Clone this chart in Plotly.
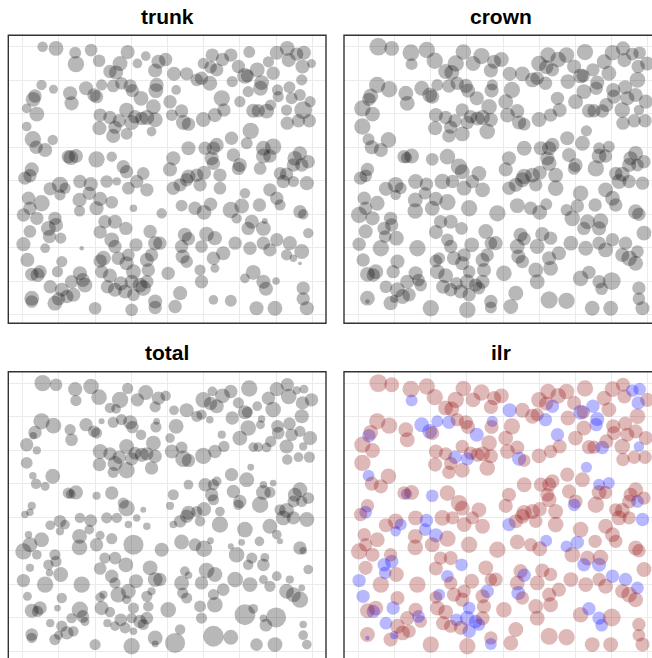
import plotly.graph_objects as go

# Tree positions in the plot (m)
x_m = [
    5.5, 9.2, 14.5, 14.7, 18.9, 21.1, 29.0, 26.9, 31.7, 34.0, 37.5, 39.5, 49.9, 52.4, 55.2, 57.5, 62.6, 59.6, 67.9, 70.2,
    73.1, 73.5, 75.7, 77.7, 79.8, 77.3,
    24.1, 25.8, 36.6, 41.8, 45.3, 48.1, 49.4, 51.7, 53.6, 51.9, 57.9, 61.4, 62.1, 64.8, 66.0, 65.7, 69.2, 77.1, 73.7, 70.4,
    62.3, 60.0, 55.0, 5.2, 8.5, 2.9, 3.4, 1.1, 3.9, 13.1, 13.5, 17.5, 19.7, 20.4, 21.8, 25.0, 27.3, 29.7, 30.3, 32.7, 37.0,
    36.8, 42.4,
    40.7, 41.2, 43.9, 44.4, 45.8, 49.9, 53.1, 55.6, 36.1, 34.3, 36.6, 35.6, 32.9, 31.0, 30.1, 28.7, 26.7, 25.5, 24.1, 21.4,
    21.2, 25.0, 28.7, 63.7, 65.1, 67.4, 68.5, 70.6, 72.9, 74.3, 76.6, 77.5, 79.4, 73.1, 76.2, 79.2, 1.1, 2.8, 3.7, 6.2, 8.3,
    63.0, 57.7, 61.9, 66.5, 69.2, 66.5, 68.3, 58.2, 60.0, 59.6, 65.6, 53.6, 52.7, 52.2, 52.7, 50.4, 45.8, 54.5, 50.1, 48.1,
    45.8, 41.6, 40.7, 76.6, 75.2, 77.1, 78.9, 74.8, 72.9, 71.1, 27.8, 28.7, 33.3, 24.6, 20.4, 13.3, 14.7, 12.6, 2.5, 2.0, 0.6,
    10.3, 11.7, 10.3, 7.6, 15.8, 18.8, 18.4, 21.4, 15.7, 15.7, 20.4, 24.6, 23.2, 26.0, 29.2, 31.5, 34.3, 30.6, 38.4, 41.6,
    43.5, 45.3, 49.0, 54.5, 43.9, 47.6, 50.1, 51.9, 57.5, 60.5, 61.4, 59.1, 63.3, 62.3, 66.5, 66.9, 65.4, 68.3, 70.2, 71.1,
    72.0, 74.8, 78.5, 76.6, 77.5, 78.9, 70.2, 73.8, 77.1, 74.8, 72.9, 76.6, 68.3, 66.5, 62.8, 58.7, 55.4, 52.7, 53.1, 49.4,
    50.8, 53.1, 44.8, 45.8, 43.9, 44.2, 45.3, 49.0, 49.4, 40.2, 37.9, 36.6, 35.2, 35.6, 34.3, 34.7, 31.3, 29.2, 28.7, 30.6,
    30.1, 32.4, 33.3, 34.3, 30.6, 30.1, 36.6, 36.6, 42.1, 43.5, 52.7, 57.5, 61.4, 63.7, 66.5, 67.2, 70.0, 64.6, 69.7, 77.5,
    77.5, 78.5, 28.5, 25.5, 22.7, 21.4, 24.6, 25.5, 26.4, 22.3, 21.4, 21.8, 24.1, 23.4, 27.1, 25.5, 28.3, 20.0, 17.2, 16.6,
    15.8, 13.5, 12.2, 14.0, 8.9, 9.9, 10.8, 9.6, 10.8, 7.6, 4.8, 4.1, 2.5, 1.3, 0.2, 2.0, 6.2, 7.4, 7.1, 9.2,
    10.5, 8.9, 3.9, 0.2, 2.0, 1.6, 5.2, 2.5, 2.5, 16.3,
]
y_m = [
    80.0, 79.5, 78.2, 74.8, 79.0, 75.8, 78.4, 75.0, 75.0, 77.2, 75.5, 76.2, 75.0, 77.5, 76.2, 77.5, 78.4, 74.1, 75.5, 78.2,
    79.5, 76.0, 77.8, 78.2, 75.0, 74.1,
    72.6, 72.3, 72.9, 71.9, 71.9, 70.1, 70.6, 69.1, 73.1, 73.9, 69.6, 71.3, 71.3, 73.1, 69.3, 67.6, 72.1, 70.1, 67.9, 67.1,
    66.6, 63.6, 64.6, 68.6, 67.3, 64.3, 65.3, 61.6, 59.9, 66.1, 63.1, 67.6, 65.6, 65.1, 68.6, 68.3, 69.1, 68.3, 66.9, 64.6,
    68.6, 66.9, 67.1,
    63.6, 59.6, 60.8, 57.4, 56.9, 58.3, 59.6, 61.1, 62.1, 58.9, 58.2, 54.7, 58.6, 59.1, 57.4, 61.1, 57.9, 56.0, 58.9, 59.6,
    55.7, 53.4, 54.0, 60.9, 60.9, 60.8, 62.6, 65.1, 61.1, 64.6, 65.6, 61.1, 63.6, 57.2, 57.9, 57.9, 56.2, 52.4, 50.0, 49.2,
    52.2,
    54.9, 52.7, 51.2, 49.7, 50.2, 47.4, 47.4, 47.7, 44.7, 43.7, 43.7, 50.7, 49.7, 46.7, 45.2, 49.7, 49.7, 41.7, 42.4, 41.7,
    41.3, 46.7, 43.4, 48.2, 46.7, 44.7, 45.7, 44.7, 42.0, 42.2, 44.2, 42.7, 42.2, 47.2, 46.4, 46.9, 47.4, 47.2, 43.4, 41.5,
    40.8,
    38.8, 37.8, 35.8, 37.6, 39.8, 39.0, 36.3, 34.6, 34.3, 31.0, 31.8, 33.6, 39.8, 39.8, 37.8, 39.8, 37.3, 31.8, 30.3, 37.8,
    38.8, 40.3, 38.8, 37.8, 32.6, 31.8, 30.6, 33.0, 31.3, 32.5, 36.3, 28.8, 27.8, 25.8, 25.8, 28.0, 32.8, 37.3, 34.8, 32.8,
    39.8, 39.8, 39.3, 30.8, 30.0, 24.4, 22.4, 21.4, 18.9, 16.9, 17.9, 15.4, 19.4, 21.4, 19.9, 21.4, 18.4, 16.9, 13.9, 20.4,
    24.1, 22.9, 23.9, 22.7, 20.4, 17.4, 15.9, 13.4, 9.9, 12.4, 21.4, 21.4, 24.9, 17.9, 16.4, 13.4, 20.9, 17.9, 15.4, 12.9,
    9.9, 8.9, 8.0, 9.9, 6.0, 1.5, 4.0, 2.2, 2.5, 6.5, 4.5, 4.2, 10.9, 12.7, 9.9, 7.8, 10.1, 2.0, 2.0, 8.0,
    4.8, 2.0, 25.8, 27.8, 27.8, 24.7, 22.4, 20.4, 16.9, 16.9, 16.1, 12.9, 11.7, 8.4, 9.4, 7.5, 7.0, 2.0, 8.9, 10.4,
    12.4, 9.9, 5.5, 6.0, 3.5, 4.8, 7.5, 12.9, 15.9, 8.4, 12.9, 11.9, 12.1, 16.4, 21.1, 24.9, 19.9, 23.4, 25.8, 26.8,
    22.9, 28.8, 28.8, 29.8, 31.8, 34.8, 33.3, 5.0, 4.0, 19.9,
]

# Biomass per tree (relative units)
trunk = [
    28, 40, 32, 44, 34, 34, 38, 40, 26, 26, 38, 36, 30, 36, 36, 36, 32, 36, 30, 38, 40, 38, 36, 38, 24, 38,
    36, 38, 38, 38, 36, 34, 36, 40, 36, 34, 30, 42, 36, 40, 40, 40, 36, 30, 32, 30, 30, 30, 44, 28, 24, 40, 36, 26, 40, 38,
    38, 38, 36, 36, 30, 34, 34, 36, 36, 40, 38, 40, 26,
    36, 32, 36, 40, 36, 40, 38, 36, 40, 40, 40, 26, 36, 36, 40, 40, 36, 36, 36, 36, 38, 38, 32, 38, 36, 40, 30, 30, 30, 32,
    32, 48, 30, 36, 36, 36, 26, 44, 36, 38, 28,
    44, 36, 32, 40, 44, 40, 36, 36, 38, 36, 34, 38, 36, 38, 36, 36, 38, 36, 38, 36, 38, 38, 38, 38, 40, 36, 36, 36, 36, 34,
    36, 36, 34, 28, 44, 40, 38, 36, 38, 36, 36,
    44, 30, 30, 36, 36, 38, 36, 38, 38, 30, 38, 34, 34, 22, 34, 36, 36, 20, 28, 36, 36, 36, 36, 34, 32, 36, 40, 36, 44, 40,
    28, 28, 38, 36, 40, 16, 36, 36, 36, 30, 36, 30, 38, 36, 28, 28, 36, 38, 40, 20, 30, 10, 36, 36, 36, 36, 38, 36, 24, 34,
    40, 38, 38, 36, 36, 38, 34, 30, 36, 36, 36, 38, 36, 36, 38, 36, 36, 34, 38, 40, 38, 40, 42, 36, 34, 34, 38, 36, 36, 38,
    26, 32, 26, 40, 38, 38, 20, 38, 40, 36, 36, 38, 36, 38, 36, 36, 40, 36, 36, 40, 36, 36, 38, 36, 38, 38, 38, 34, 40, 38,
    38, 36, 36, 38, 40, 36, 38, 30, 30, 36, 36, 38, 36, 38, 38, 34, 26, 36, 40, 38, 30, 36, 36, 36, 36, 36, 44, 40, 34, 12,
]
crown = [
    48, 40, 45, 32, 44, 44, 42, 44, 40, 44, 38, 40, 42, 42, 42, 42, 44, 38, 40, 42, 38, 38, 34, 34, 38, 36,
    40, 40, 38, 38, 40, 40, 36, 36, 36, 38, 40, 40, 36, 36, 38, 36, 40, 42, 38, 38, 40, 40, 36, 44, 44, 36, 40, 44, 40, 40,
    40, 40, 40, 38, 32, 36, 36, 38, 38, 38, 30, 38, 44,
    40, 40, 38, 38, 34, 40, 36, 38, 42, 40, 38, 42, 38, 36, 36, 36, 36, 36, 36, 38, 38, 36, 40, 38, 36, 36, 38, 38, 42, 38,
    38, 28, 38, 36, 36, 36, 44, 32, 38, 38, 42,
    30, 38, 40, 32, 32, 40, 36, 38, 38, 34, 44, 38, 38, 38, 40, 38, 40, 40, 38, 40, 42, 38, 38, 40, 38, 34, 36, 38, 40, 36,
    44, 40, 40, 42, 34, 30, 40, 36, 36, 34, 36,
    42, 32, 28, 38, 40, 36, 34, 38, 40, 42, 40, 44, 42, 36, 40, 36, 40, 44, 44, 36, 38, 40, 36, 42, 40, 36, 40, 32, 32, 36,
    42, 42, 40, 36, 38, 42, 36, 40, 40, 36, 40, 36, 36, 40, 36, 40, 36, 36, 34, 42, 38, 40, 40, 36, 40, 40, 38, 38, 40, 40,
    38, 36, 38, 36, 40, 38, 36, 40, 40, 42, 38, 34, 40, 36, 38, 38, 40, 36, 38, 34, 40, 36, 34, 38, 36, 44, 36, 32, 40, 40,
    46, 44, 42, 36, 36, 34, 48, 40, 40, 36, 34, 38, 34, 38, 36, 38, 34, 36, 38, 32, 34, 40, 40, 38, 34, 36, 38, 44, 34, 34,
    38, 38, 40, 36, 38, 22, 40, 36, 38, 34, 40, 36, 40, 36, 36, 38, 44, 34, 36, 36, 40, 36, 38, 44, 36, 36, 40, 40, 12, 44,
]
total = [
    44, 34, 38, 30, 42, 42, 30, 44, 36, 40, 36, 28, 42, 26, 40, 36, 44, 30, 36, 38, 36, 42, 22, 24, 36, 36,
    28, 26, 30, 26, 38, 30, 28, 20, 38, 36, 36, 38, 30, 26, 20, 24, 42, 38, 34, 34, 42, 40, 22, 44, 42, 20, 36, 36, 22, 30,
    34, 36, 32, 30, 16, 30, 30, 38, 34, 28, 18, 30, 40,
    26, 38, 32, 44, 36, 44, 36, 30, 40, 36, 36, 36, 38, 34, 36, 40, 36, 40, 36, 40, 36, 30, 44, 26, 26, 26, 30, 34, 38, 34,
    30, 22, 38, 28, 26, 30, 32, 20, 28, 24, 40,
    18, 36, 40, 20, 18, 40, 30, 36, 36, 28, 44, 26, 30, 36, 30, 36, 26, 26, 38, 30, 38, 30, 22, 40, 38, 30, 32, 32, 40, 30,
    30, 44, 16, 36, 22, 26, 38, 30, 22, 20, 20,
    34, 26, 22, 26, 28, 34, 26, 24, 40, 42, 36, 30, 30, 28, 20, 20, 20, 54, 38, 20, 34, 36, 28, 44, 40, 34, 44, 18, 16, 18,
    42, 42, 30, 28, 34, 24, 26, 40, 26, 16, 40, 36, 40, 36, 20, 26, 26, 22, 18, 40, 40, 44, 30, 24, 40, 42, 34, 30, 42, 36,
    42, 40, 26, 20, 40, 30, 30, 32, 30, 42, 36, 40, 40, 22, 30, 28, 38, 40, 24, 30, 28, 36, 30, 34, 20, 44, 40, 18, 54, 28,
    56, 40, 56, 26, 20, 34, 54, 34, 40, 20, 26, 26, 40, 34, 30, 34, 36, 30, 42, 22, 26, 38, 28, 22, 34, 26, 30, 30, 24, 34,
    44, 28, 36, 28, 30, 24, 30, 18, 28, 22, 36, 30, 38, 24, 36, 22, 44, 20, 28, 30, 40, 30, 26, 44, 40, 20, 40, 34, 28, 44,
]
# Sign of the isometric log-ratio (crown vs trunk) per tree
ilr_sign = list(
    "+++-" "++++++++++++++++++" "--+-"
    "+++-+++--+" "+-+---++++" "++-++-++++" "+--+--+++-" "-++"
    "+++-++++++" "++++-+-+++" "+++++-++++" "+-+++++-++" "+"
    "-++--++++-" "++++++++++" "+++++-++++" "++++--+++-" "+"
    "+--++---++" "+++++++++-" "+++++++---" "+++--+++++" "++-+++---+"
    "++++++++++" "+++-+-++++" "+++-+++++-" "---+-++-++" "+++---++++"
    "++-+++-++-" "++++-++++-" "+++++-+-+-" "+-+--++---" "++++++++-+"
)

n = len(x_m)
assert all(len(a) == n for a in (y_m, trunk, crown, total, ilr_sign)), [len(a) for a in (x_m, y_m, trunk, crown, total, ilr_sign)]

W, H = 652, 658
X_RANGE = [-3.98, 83.8]
Y_RANGE = [-2.5, 83.4]


def size_scale(values, domain=(10, 56), px=(3.8, 20.8)):
    """Linear size scale: value -> marker diameter in px."""
    d0, d1 = domain
    p0, p1 = px
    return [p0 + (v - d0) * (p1 - p0) / (d1 - d0) for v in values]


grey = "rgba(0,0,0,0.4)"
ilr_colors = ["rgba(139,0,0,0.4)" if s == "+" else "rgba(0,0,255,0.4)" for s in ilr_sign]

panels = [
    ("trunk", trunk, [grey] * n, "x", "y"),
    ("crown", crown, [grey] * n, "x2", "y2"),
    ("total", total, [grey] * n, "x3", "y3"),
    ("ilr", crown, ilr_colors, "x4", "y4"),
]

fig = go.Figure()
for name, vals, cols, xa, ya in panels:
    fig.add_trace(go.Scatter(
        x=x_m, y=y_m, mode="markers", name=name,
        marker=dict(size=size_scale(vals), color=cols, line=dict(width=0)),
        xaxis=xa, yaxis=ya, hoverinfo="skip", showlegend=False,
    ))

# panel geometry (paper fractions)
left_x = [8.3 / W, 326 / W]
right_x = [344 / W, 1.0]
top_y = [1 - 323.3 / H, 1 - 35.3 / H]
bot_y = [0.0, 1 - 371.7 / H]
right_xrange = [X_RANGE[0], X_RANGE[0] + (W - 344) / ((326 - 8.3) / (X_RANGE[1] - X_RANGE[0]))]
bot_yrange = [Y_RANGE[0] + 1.7 / (288 / (Y_RANGE[1] - Y_RANGE[0])), Y_RANGE[1]]

axis_common = dict(showgrid=True, gridcolor="#ebebeb", gridwidth=1.1, dtick=10, tick0=0,
                   showticklabels=False, ticks="", zeroline=False, showline=False, fixedrange=True)

fig.update_layout(
    width=W, height=H, margin=dict(l=0, r=0, t=0, b=0),
    paper_bgcolor="white", plot_bgcolor="white",
    xaxis=dict(domain=left_x, range=X_RANGE, anchor="y", **axis_common),
    yaxis=dict(domain=top_y, range=Y_RANGE, anchor="x", **axis_common),
    xaxis2=dict(domain=right_x, range=right_xrange, anchor="y2", **axis_common),
    yaxis2=dict(domain=top_y, range=Y_RANGE, anchor="x2", **axis_common),
    xaxis3=dict(domain=left_x, range=X_RANGE, anchor="y3", **axis_common),
    yaxis3=dict(domain=bot_y, range=bot_yrange, anchor="x3", **axis_common),
    xaxis4=dict(domain=right_x, range=right_xrange, anchor="y4", **axis_common),
    yaxis4=dict(domain=bot_y, range=bot_yrange, anchor="x4", **axis_common),
)

# panel borders (the right-hand and lower panels run past the page edge)
frames = [
    (8.3 / W, 326 / W, top_y[0], top_y[1]),
    (344 / W, 662 / W, top_y[0], top_y[1]),
    (8.3 / W, 326 / W, 1 - 659.7 / H, bot_y[1]),
    (344 / W, 662 / W, 1 - 659.7 / H, bot_y[1]),
]
for x0, x1, y0, y1 in frames:
    fig.add_shape(type="rect", xref="paper", yref="paper", x0=x0, x1=x1, y0=y0, y1=y1,
                  line=dict(color="#333333", width=1.4), fillcolor="rgba(0,0,0,0)", layer="above")

# facet titles
titles = [("trunk", 167.2, 16), ("crown", 501, 16), ("total", 167.2, 352), ("ilr", 501, 352)]
for text, cx, cy in titles:
    fig.add_annotation(text=f"<b>{text}</b>", x=cx / W, y=1 - cy / H, xref="paper", yref="paper",
                       xanchor="center", yanchor="middle", showarrow=False,
                       font=dict(family="Liberation Sans, Arial, sans-serif", size=21, color="black"))

fig.write_html("out.html", config={"displayModeBar": False})
